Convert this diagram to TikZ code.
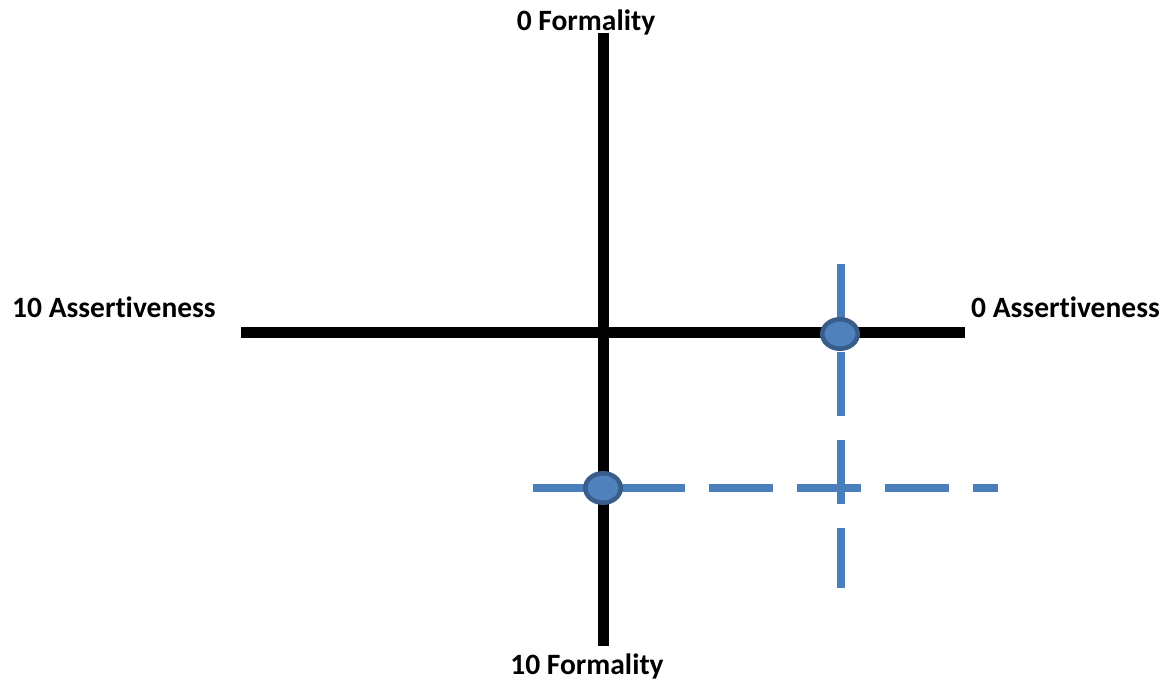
\documentclass[tikz,border=0pt]{standalone}
\usepackage{fontspec}
\usetikzlibrary{shapes.geometric}
\setmainfont[Ligatures=NoCommon]{Carlito}
\definecolor{lineblue}{HTML}{4A7EBB}
\definecolor{dotfill}{HTML}{4F81BD}
\definecolor{dotedge}{HTML}{385D8A}
\begin{document}
\begin{tikzpicture}[x=1pt,y=-1pt,
  axis/.style={line width=11pt,black},
  guide/.style={line width=8pt,lineblue,dash pattern=on 64pt off 24pt},
  dot/.style={ellipse,draw=dotedge,fill=dotfill,line width=4.5pt,minimum width=35.5pt,minimum height=29.5pt,inner sep=0pt},
  lab/.style={font=\fontsize{29.5}{34}\selectfont\bfseries,inner sep=0pt}]
\useasboundingbox (0,0) rectangle (1165,682);
\coordinate (vtop) at (603,33);
\coordinate (vbot) at (603,646);
\coordinate (hleft) at (241,332);
\coordinate (hright) at (965,332);
\coordinate (btop) at (841,264);
\coordinate (bbot) at (841,588);
\coordinate (bleft) at (533,488);
\coordinate (bright) at (998,488);
\draw[axis] (vtop) -- (vbot);
\draw[axis] (hleft) -- (hright);
\draw[guide] (btop) -- (bbot);
\draw[guide] (bleft) -- (bright);
\node[dot] (d1) at (840,334) {};
\node[dot] (d2) at (603,488) {};
\node[lab,anchor=base] (t) at (586,31) {0 Formality};
\node[lab,anchor=base] (b) at (587,674) {10 Formality};
\node[lab,anchor=base west] (l) at (12,317) {10 Assertiveness};
\node[lab,anchor=base west] (r) at (971,317) {0 Assertiveness};
\end{tikzpicture}
\end{document}
